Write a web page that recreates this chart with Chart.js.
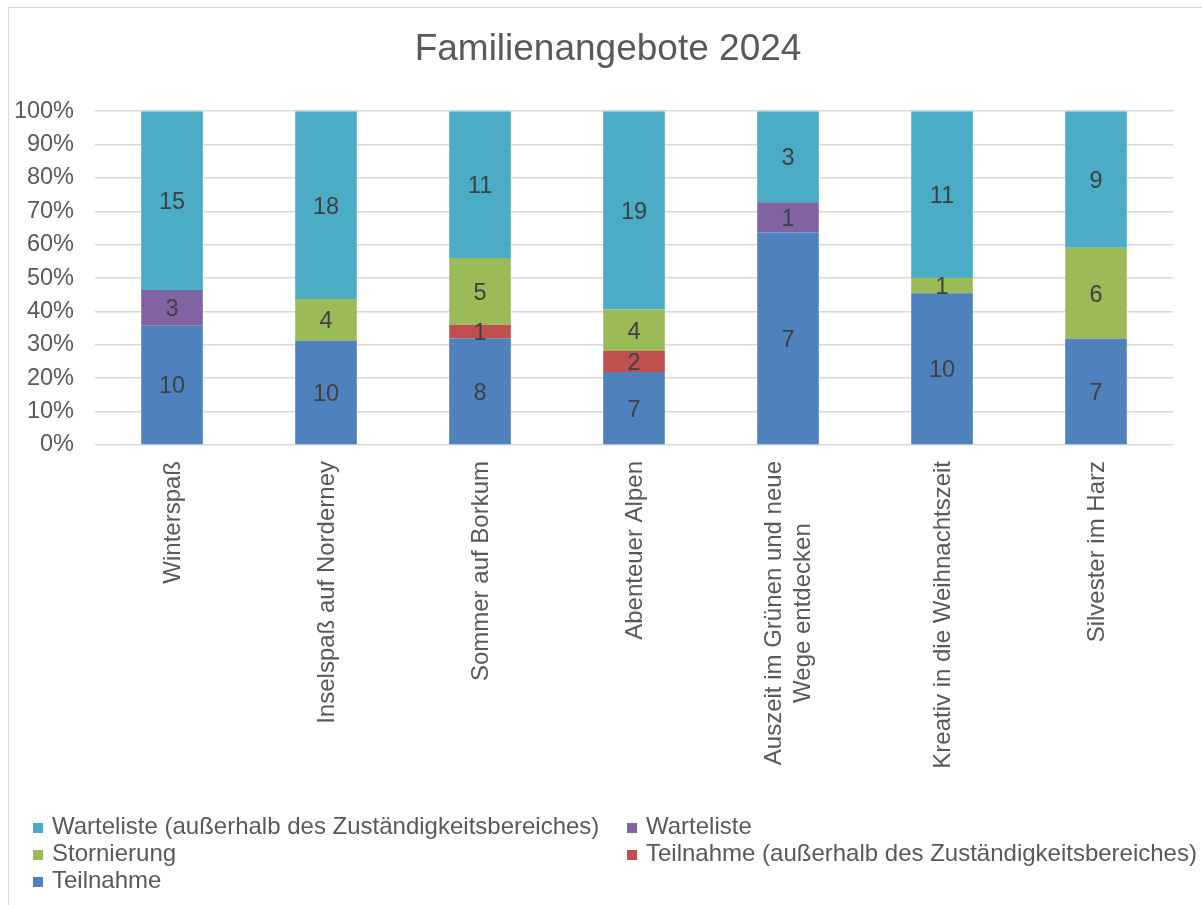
<!DOCTYPE html>
<html>
<head>
<meta charset="utf-8">
<script src="https://cdn.jsdelivr.net/npm/chart.js@4"></script>
<style>
  body { margin: 0; background: #fff; overflow: hidden; }
  #wrap { position: absolute; left: 0; top: 0; width: 1202px; height: 905px; overflow: hidden; }
  #frame { position: absolute; left: 8px; top: 7px; width: 1300px; height: 1000px; border: 1px solid #d9d9d9; }
  #chartCanvas { position: absolute; left: 0; top: 0; }
  .leg { position: absolute; font: 24px 'Liberation Sans', Arial, sans-serif; color: #595959; line-height: 27px; white-space: nowrap; }
  .leg span { display: inline-block; width: 10px; height: 10px; margin-right: 9px; vertical-align: 1px; }
</style>
</head>
<body>
<div id="wrap">
  <div id="frame"></div>
  <canvas id="chartCanvas" width="1216" height="905"></canvas>
  <div id="legend"></div>
</div>
<script>
const categories = [
  'Winterspaß',
  'Inselspaß auf Norderney',
  'Sommer auf Borkum',
  'Abenteuer Alpen',
  ['Auszeit im Grünen und neue', 'Wege entdecken'],
  'Kreativ in die Weihnachtszeit',
  'Silvester im Harz'
];
const teilnahme = [10, 10, 8, 7, 7, 10, 7];
const teilnahmeExtern = [0, 0, 1, 2, 0, 0, 0];
const stornierung = [0, 4, 5, 4, 0, 1, 6];
const warteliste = [3, 0, 0, 0, 1, 0, 0];
const wartelisteExtern = [15, 18, 11, 19, 3, 11, 9];

const seriesNames = [
  'Teilnahme',
  'Teilnahme (außerhalb des Zuständigkeitsbereiches)',
  'Stornierung',
  'Warteliste',
  'Warteliste (außerhalb des Zuständigkeitsbereiches)'
];
const seriesColors = ['#4f81bd', '#c0504d', '#9bbb59', '#8064a2', '#4bacc6'];
const counts = [teilnahme, teilnahmeExtern, stornierung, warteliste, wartelisteExtern];

const FONT = "'Liberation Sans', Arial, sans-serif";

// totals per category for the 100% stack
const totals = categories.map((_, i) => counts.reduce((s, arr) => s + arr[i], 0));

const datasets = counts.map((arr, d) => ({
  label: seriesNames[d],
  data: arr.map((v, i) => v / totals[i] * 100),
  backgroundColor: seriesColors[d],
  borderWidth: 0,
  categoryPercentage: 1,
  barPercentage: 0.4
}));

// count labels in the middle of each segment
const valueLabels = {
  id: 'valueLabels',
  afterDatasetsDraw(chart) {
    const ctx = chart.ctx;
    ctx.save();
    ctx.font = '23.5px ' + FONT;
    ctx.fillStyle = '#404040';
    ctx.textAlign = 'center';
    ctx.textBaseline = 'middle';
    chart.data.datasets.forEach((ds, d) => {
      chart.getDatasetMeta(d).data.forEach((el, i) => {
        const n = counts[d][i];
        if (!n) return;
        ctx.fillText(String(n), el.x, (el.y + el.base) / 2 + 2);
      });
    });
    ctx.restore();
  }
};

// rotated category labels, multi-line ones centered like the original
const categoryLabels = {
  id: 'categoryLabels',
  afterDraw(chart) {
    const ctx = chart.ctx;
    const xs = chart.scales.x;
    const top = chart.chartArea.bottom + 16;
    const lh = 29;
    ctx.save();
    ctx.font = '24px ' + FONT;
    ctx.fillStyle = '#595959';
    ctx.textBaseline = 'middle';
    categories.forEach((lab, i) => {
      const lines = Array.isArray(lab) ? lab : [lab];
      const w = Math.max(...lines.map(l => ctx.measureText(l).width));
      ctx.save();
      ctx.translate(xs.getPixelForValue(i) + 1, top);
      ctx.rotate(-Math.PI / 2);
      ctx.textAlign = lines.length > 1 ? 'center' : 'right';
      lines.forEach((l, k) => {
        const off = (k - (lines.length - 1) / 2) * lh;
        ctx.fillText(l, lines.length > 1 ? -w / 2 : 0, off);
      });
      ctx.restore();
    });
    ctx.restore();
  }
};

const ctx = document.getElementById('chartCanvas').getContext('2d');
const myChart = new Chart(ctx, {
  type: 'bar',
  data: { labels: categories, datasets: datasets },
  plugins: [valueLabels, categoryLabels],
  options: {
    responsive: false,
    animation: false,
    layout: { padding: 0 },
    plugins: {
      legend: { display: false },
      tooltip: { enabled: false },
      title: {
        display: true,
        text: 'Familienangebote 2024',
        color: '#595959',
        font: { family: FONT, size: 37, weight: 'normal', lineHeight: 1.2 },
        padding: { top: 27.8, bottom: 39 }
      }
    },
    scales: {
      x: {
        stacked: true,
        grid: { display: false },
        border: { display: false },
        ticks: { display: false },
        afterFit(scale) { scale.height = 460; }
      },
      y: {
        stacked: true,
        min: 0,
        max: 100,
        grid: { color: '#d9d9d9', lineWidth: 1.6, drawTicks: false },
        border: { display: false },
        ticks: {
          stepSize: 10,
          padding: 21,
          color: '#595959',
          font: { family: FONT, size: 23.5 },
          callback: v => v + '%'
        },
        afterFit(scale) { scale.width = 95; }
      },
      // empty right-hand margin so the title centres over the whole frame
      yRight: {
        position: 'right',
        grid: { display: false },
        border: { display: false },
        ticks: { display: false },
        afterFit(scale) { scale.width = 43; }
      }
    }
  }
});

// legend: two columns, reversed series order like the original
const legend = document.getElementById('legend');
seriesNames.slice().reverse().forEach((name, k) => {
  const d = seriesNames.length - 1 - k;
  const div = document.createElement('div');
  div.className = 'leg';
  div.style.left = (33 + (k % 2) * 594) + 'px';
  div.style.top = (812 + Math.floor(k / 2) * 27) + 'px';
  div.innerHTML = '<span style="background:' + seriesColors[d] + '"></span>' + name;
  legend.appendChild(div);
});
</script>
</body>
</html>
